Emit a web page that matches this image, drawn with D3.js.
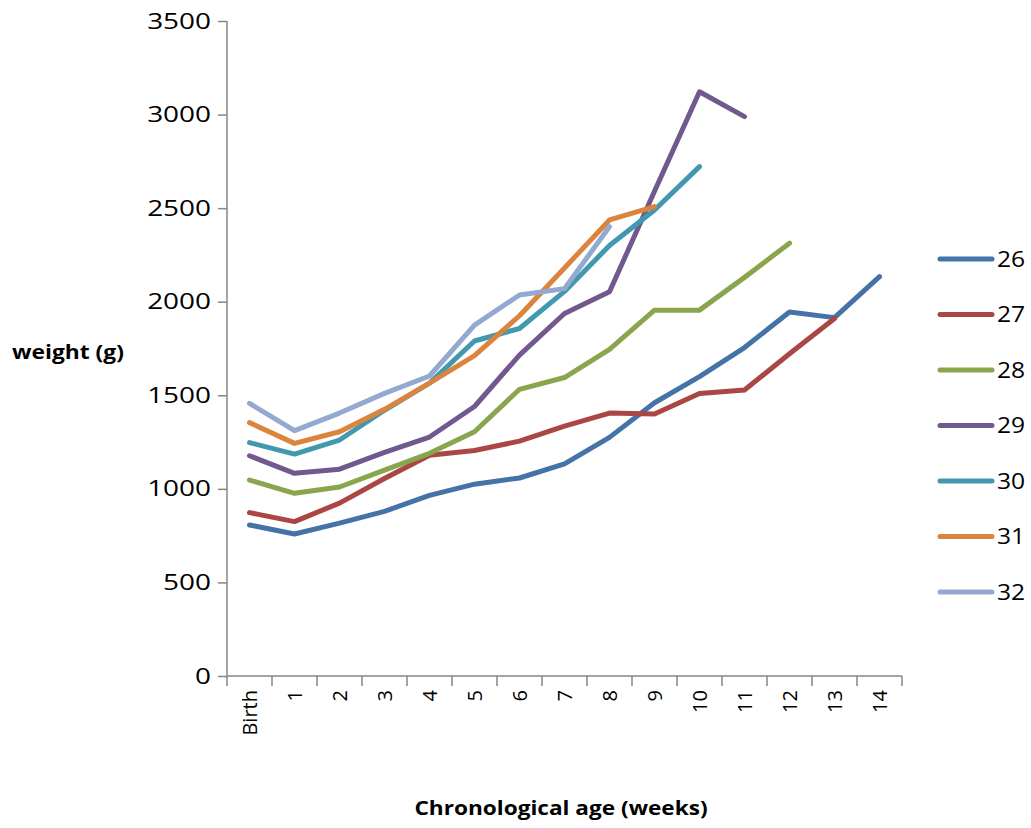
<!DOCTYPE html>
<html>
<head>
<meta charset="utf-8">
<script src="https://cdn.jsdelivr.net/npm/d3@7"></script>
<style>
  html, body { margin: 0; padding: 0; background: #fff; }
  svg text { font-family: "Open Sans", "Liberation Sans", sans-serif; fill: #000; }
</style>
</head>
<body>
<svg id="chart" width="1031" height="828"></svg>
<script>
// ---- data ----
const categories = ["Birth","1","2","3","4","5","6","7","8","9","10","11","12","13","14"];
const seriesNames = ["26","27","28","29","30","31","32"];
const w26 = [807, 759, 817, 880, 965, 1025, 1058, 1133, 1275, 1460, 1600, 1755, 1945, 1915, 2134];
const w27 = [873, 825, 924, 1055, 1180, 1205, 1255, 1335, 1405, 1400, 1510, 1528, 1722, 1910, null];
const w28 = [1047, 976, 1010, 1100, 1190, 1305, 1532, 1595, 1745, 1955, 1955, 2130, 2313, null, null];
const w29 = [1177, 1083, 1105, 1195, 1277, 1440, 1715, 1937, 2053, 2590, 3122, 2989, null, null, null];
const w30 = [1247, 1186, 1261, 1420, 1565, 1790, 1857, 2055, 2300, 2490, 2722, null, null, null, null];
const w31 = [1354, 1243, 1305, 1425, 1565, 1712, 1925, 2180, 2437, 2508, null, null, null, null, null];
const w32 = [1457, 1311, 1405, 1510, 1603, 1875, 2036, 2070, 2401, null, null, null, null, null, null];
const yTicks = [0, 500, 1000, 1500, 2000, 2500, 3000, 3500];
const colors = ["#4572A7", "#AA4643", "#89A54E", "#71588F", "#4198AF", "#DB843D", "#93A9CF"];

const allSeries = [w26, w27, w28, w29, w30, w31, w32].map((vals, i) => ({
  name: seriesNames[i], color: colors[i],
  points: vals.map((v, j) => ({ cat: categories[j], v }))
}));

// ---- layout ----
const svg = d3.select("#chart");
const plot = { left: 227, right: 902, top: 21, bottom: 676 };

const x = d3.scaleBand().domain(categories).range([plot.left, plot.right]);
const y = d3.scaleLinear().domain([0, 3500]).range([plot.bottom, plot.top]);
const axisColor = "#868686";

// y axis
const yAxis = svg.append("g").attr("transform", `translate(${plot.left},0)`)
  .call(d3.axisLeft(y).tickValues(yTicks).tickSize(9).tickPadding(6).tickFormat(d3.format("d")));
yAxis.select(".domain").attr("stroke", axisColor).attr("stroke-width", 1.5)
  .attr("d", `M0,${plot.top}V${plot.bottom}`);
yAxis.selectAll(".tick line").attr("stroke", axisColor).attr("stroke-width", 1.5);
yAxis.selectAll(".tick text").style("font-size", "22px").attr("fill", "#000")
  .attr("x", 0).attr("transform", "translate(-16,0) scale(1.27,1)");

// x axis with ticks at band boundaries
const xAxisG = svg.append("g").attr("transform", `translate(0,${plot.bottom})`);
xAxisG.append("line").attr("x1", plot.left).attr("x2", plot.right)
  .attr("stroke", axisColor).attr("stroke-width", 1.5);
const boundaries = categories.map(c => x(c)).concat([plot.right]);
xAxisG.selectAll("line.tk").data(boundaries).enter().append("line").attr("class", "tk")
  .attr("x1", d => d).attr("x2", d => d).attr("y1", 0).attr("y2", 10)
  .attr("stroke", axisColor).attr("stroke-width", 1.5);
xAxisG.selectAll("text.lbl").data(categories).enter().append("text").attr("class", "lbl")
  .attr("transform", d => `translate(${x(d) + x.bandwidth() / 2},14) rotate(-90)`)
  .attr("text-anchor", "end").attr("dy", "0.35em")
  .style("font-size", "20px")
  .text(d => d);

// lines
const line = d3.line()
  .defined(d => d.v !== null)
  .x(d => x(d.cat) + x.bandwidth() / 2)
  .y(d => y(d.v));

svg.append("g").selectAll("path").data(allSeries).enter().append("path")
  .attr("d", d => line(d.points))
  .attr("fill", "none")
  .attr("stroke", d => d.color)
  .attr("stroke-width", 5)
  .attr("stroke-linecap", "round")
  .attr("stroke-linejoin", "round");

// legend
const legend = svg.append("g");
const legY0 = 259, legStep = 55.5;
allSeries.forEach((s, i) => {
  const g = legend.append("g").attr("transform", `translate(0,${legY0 + i * legStep})`);
  g.append("line").attr("x1", 940).attr("x2", 992).attr("y1", 0).attr("y2", 0)
    .attr("stroke", s.color).attr("stroke-width", 5).attr("stroke-linecap", "round");
  g.append("text").attr("transform", "translate(997,0) scale(1.12,1)").attr("dy", "0.35em")
    .style("font-size", "22px").text(s.name);
});

// titles
svg.append("text").attr("transform", "translate(12,352) scale(1.2,1)").attr("dy", "0.35em")
  .style("font-size", "19px").style("font-weight", "bold").text("weight (g)");
svg.append("text").attr("transform", "translate(561,808) scale(1.19,1)").attr("dy", "0.35em")
  .attr("text-anchor", "middle")
  .style("font-size", "19px").style("font-weight", "bold").text("Chronological age (weeks)");
</script>
</body>
</html>
